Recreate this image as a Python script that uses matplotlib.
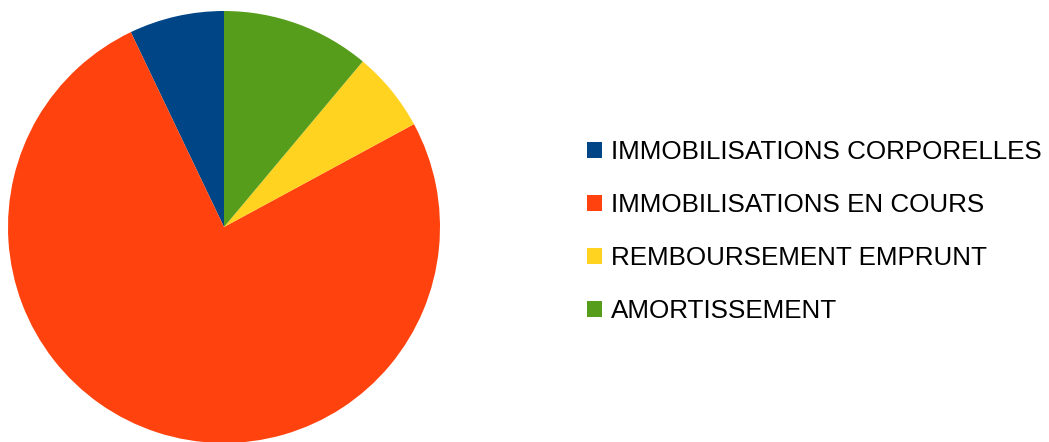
import matplotlib
matplotlib.use("Agg")
import matplotlib.pyplot as plt
from matplotlib.patches import Patch

labels = ["IMMOBILISATIONS CORPORELLES", "IMMOBILISATIONS EN COURS",
          "REMBOURSEMENT EMPRUNT", "AMORTISSEMENT"]
values = [7.1, 75.8, 6.0, 11.1]
colors = ["#004586", "#ff420e", "#ffd320", "#579d1c"]

plt.rcParams['font.family'] = ['Liberation Sans', 'DejaVu Sans']

W, H = 1049, 442
fig = plt.figure(figsize=(W / 100, H / 100), dpi=100)
cx, cy, r = 224, 227, 216
ax = fig.add_axes([(cx - r) / W, (H - cy - r) / H, 2 * r / W, 2 * r / H])
ax.pie(values, colors=colors, startangle=90, counterclock=True,
       wedgeprops=dict(linewidth=0))
ax.set_xlim(-1, 1)
ax.set_ylim(-1, 1)
ax.set_aspect('equal')
ax.axis('off')

handles = [Patch(facecolor=c, edgecolor='none') for c in colors]
fig.legend(handles, labels, loc='center left',
           bbox_to_anchor=(587 / W, (H - 231.5) / H),
           frameon=False, fontsize=18.7, handlelength=0.57, handleheight=0.57,
           handletextpad=0.35, labelspacing=1.12, borderpad=0, borderaxespad=0)

fig.savefig("out.png", dpi=100)
